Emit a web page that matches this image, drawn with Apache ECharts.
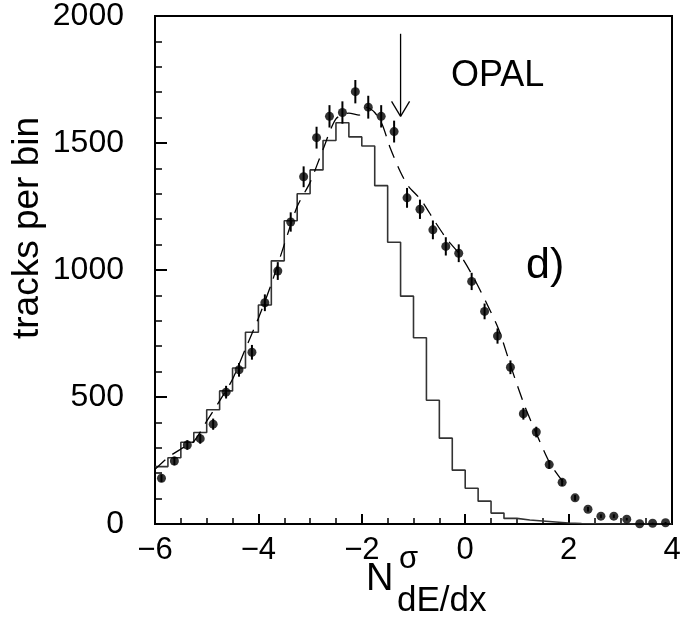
<!DOCTYPE html>
<html>
<head>
<meta charset="utf-8">
<script src="https://cdn.jsdelivr.net/npm/echarts@6/dist/echarts.min.js"></script>
<style>
html,body{margin:0;padding:0;background:#fff;}
#chart{width:694px;height:623px;}
</style>
</head>
<body>
<div id="chart"></div>
<script>
// ---- data ----
const binCenters = [-5.875,-5.625,-5.375,-5.125,-4.875,-4.625,-4.375,-4.125,-3.875,-3.625,
  -3.375,-3.125,-2.875,-2.625,-2.375,-2.125,-1.875,-1.625,-1.375,-1.125,
  -0.875,-0.625,-0.375,-0.125,0.125,0.375,0.625,0.875,1.125,1.375,
  1.625,1.875,2.125,2.375,2.625,2.875,3.125,3.375,3.625,3.875];
const binWidth = 0.25;
const histCounts = [226,261,322,360,450,524,614,755,862,1036,
  1194,1300,1394,1510,1580,1524,1488,1332,1109,897,
  733,487,338,212,141,90,43,22,16,12,
  8,4,2,1,0,0,0,0,0,0];
const dataCounts = [180,248,311,336,393,519,607,676,871,996,
  1189,1367,1521,1605,1620,1702,1641,1605,1545,1284,
  1239,1158,1093,1066,955,837,740,617,434,362,
  234,164,103,58,31,31,19,1,3,5];
const dataErrors = [15,17,19,20,22,25,27,29,33,35,
  38,41,43,44,44,46,45,44,43,39,
  38,37,36,35,34,31,30,27,23,21,
  17,14,11,9,7,7,5,2,2,3];
const curveX = [-6.0,-5.75,-5.5,-5.25,-5.0,-4.75,-4.5,-4.25,-4.0,-3.75,-3.5,-3.25,-3.0,-2.75,-2.5,-2.25,-2.05,-1.9,-1.75,-1.6,-1.45,-1.25,-1.1,-0.85,-0.6,-0.35,-0.1,0.15,0.4,0.65,0.9,1.15,1.4,1.65,1.95];
const curveY = [215,262,295,325,405,485,570,690,810,945,1100,1250,1345,1475,1595,1618,1610,1640,1620,1570,1480,1385,1330,1275,1195,1120,1060,975,875,765,610,465,345,235,150];
const arrowX = -1.25, arrowTop = 1930, arrowTip = 1605;

// ---- build ----
const FONT = 'Liberation Sans';
const histData = binCenters.map((c, i) => [c - binWidth / 2, histCounts[i]]);
histData.push([binCenters[binCenters.length - 1] + binWidth / 2, histCounts[histCounts.length - 1]]);
const pointData = binCenters.map((c, i) => [c, dataCounts[i]]);
const errData = binCenters.map((c, i) => [c, dataCounts[i] - dataErrors[i], dataCounts[i] + dataErrors[i]]);
const curveData = curveX.map((x, i) => [x, curveY[i]]);

const chart = echarts.init(document.getElementById('chart'), null, {renderer: 'canvas'});
const option = {
  animation: false,
  backgroundColor: '#fff',
  grid: {left: 155, right: 22, top: 8, bottom: 99, show: true, borderColor: '#000', borderWidth: 2, backgroundColor: 'transparent'},
  xAxis: {
    type: 'value', min: -6, max: 4, interval: 2,
    axisLine: {show: true, onZero: false, lineStyle: {color: '#000', width: 2}},
    axisTick: {show: true, inside: true, length: 10, lineStyle: {color: '#000', width: 2}},
    minorTick: {show: true, splitNumber: 4, length: 6, lineStyle: {color: '#000', width: 1.5}},
    splitLine: {show: false},
    axisLabel: {color: '#000', fontSize: 31, fontFamily: FONT, margin: 11,
      formatter: v => String(v).replace('-', '\u2212')}
  },
  yAxis: {
    type: 'value', min: 0, max: 2000, interval: 500,
    axisLine: {show: true, onZero: false, lineStyle: {color: '#000', width: 2}},
    axisTick: {show: true, inside: true, length: 12, lineStyle: {color: '#000', width: 2}},
    minorTick: {show: true, splitNumber: 5, length: 7, lineStyle: {color: '#000', width: 1.5}},
    splitLine: {show: false},
    axisLabel: {color: '#000', fontSize: 32, fontFamily: FONT, margin: 31,
      formatter: v => String(v)}
  },
  series: [
    {
      type: 'line', data: histData, step: 'end', symbol: 'none',
      lineStyle: {color: '#333', width: 1.6}, z: 2
    },
    {
      type: 'line', data: curveData, smooth: 0.25, symbol: 'none',
      lineStyle: {color: '#000', width: 1.3, type: [14, 9]}, z: 3
    },
    {
      type: 'custom', data: errData, encode: {x: 0, y: [1, 2]}, z: 4,
      renderItem: function (params, api) {
        const x = api.value(0);
        const p1 = api.coord([x, api.value(1)]);
        const p2 = api.coord([x, api.value(2)]);
        return {type: 'line', shape: {x1: p1[0], y1: p1[1], x2: p2[0], y2: p2[1]},
          style: {stroke: '#000', lineWidth: 2}};
      }
    },
    {
      type: 'scatter', data: pointData, symbol: 'circle', symbolSize: 9,
      itemStyle: {color: '#000'}, z: 5
    },
    {
      type: 'custom', data: [[arrowX, arrowTop, arrowTip]], encode: {x: 0, y: [1, 2]}, z: 6,
      renderItem: function (params, api) {
        const x = api.value(0);
        const top = api.coord([x, api.value(1)]);
        const tip = api.coord([x, api.value(2)]);
        const st = {stroke: '#000', lineWidth: 1.3};
        return {type: 'group', children: [
          {type: 'line', shape: {x1: top[0], y1: top[1], x2: tip[0], y2: tip[1]}, style: st},
          {type: 'line', shape: {x1: tip[0] - 9, y1: tip[1] - 15, x2: tip[0], y2: tip[1]}, style: st},
          {type: 'line', shape: {x1: tip[0] + 9, y1: tip[1] - 15, x2: tip[0], y2: tip[1]}, style: st}
        ]};
      }
    }
  ],
  graphic: [
    {type: 'text', x: 451, y: 76, style: {text: 'OPAL', fontSize: 36, fontFamily: FONT, fill: '#000', verticalAlign: 'middle', align: 'left'}},
    {type: 'text', x: 526, y: 266, style: {text: 'd)', fontSize: 43, fontFamily: FONT, fill: '#000', verticalAlign: 'middle', align: 'left'}},
    {type: 'text', x: 28, y: 228, rotation: Math.PI / 2, style: {text: 'tracks per bin', fontSize: 37, fontFamily: FONT, fill: '#000', verticalAlign: 'middle', align: 'center'}},
    {type: 'text', x: 366, y: 580, style: {text: 'N', fontSize: 38, fontFamily: FONT, fill: '#000', verticalAlign: 'middle', align: 'left'}},
    {type: 'text', x: 399, y: 559, style: {text: '\u03c3', fontSize: 31, fontFamily: FONT, fill: '#000', verticalAlign: 'middle', align: 'left'}},
    {type: 'text', x: 397, y: 601, style: {text: 'dE/dx', fontSize: 35, fontFamily: FONT, fill: '#000', verticalAlign: 'middle', align: 'left'}}
  ]
};
chart.setOption(option);
</script>
</body>
</html>
